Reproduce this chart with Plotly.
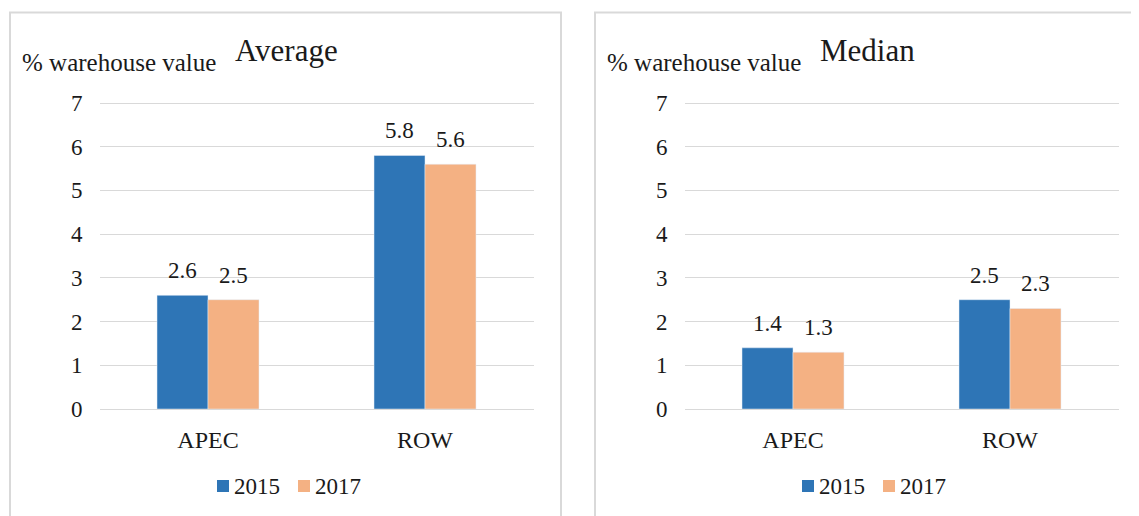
import plotly.graph_objects as go

categories = ["APEC", "ROW"]
years = ["2015", "2017"]
avg_2015 = [2.6, 5.8]
avg_2017 = [2.5, 5.6]
med_2015 = [1.4, 2.5]
med_2017 = [1.3, 2.3]
panel_titles = ["Average", "Median"]
y_label = "% warehouse value"
y_ticks = [0, 1, 2, 3, 4, 5, 6, 7]

# page has an 8px body margin; work in screen pixels and convert
OX, OY = 8, 8
FW, FH = 1131, 508


def px(x):
    return (x - OX) / FW


def py(y):
    return 1 - (y - OY) / FH


BLUE = "#2E75B6"
ORANGE = "#F4B183"
GRID = "#d9d9d9"
FONT = "Liberation Serif"
TXT = "#1a1a1a"
DX = 585  # horizontal offset of the second panel

Y0, Y7 = 409, 103
ppu = (Y0 - Y7) / 7
YMAX = 7.05
ydom = [py(Y0), py(Y0 - YMAX * ppu)]
xdoms = [[px(99.5), px(533.5)], [px(99.5 + DX), px(533.5 + DX)]]

fig = go.Figure()
panels = [
    (avg_2015, avg_2017, "x", "y"),
    (med_2015, med_2017, "x2", "y2"),
]
for s15, s17, xa, ya in panels:
    fig.add_trace(go.Bar(x=categories, y=s15, name=years[0], marker_color=BLUE,
                         xaxis=xa, yaxis=ya, showlegend=False))
    fig.add_trace(go.Bar(x=categories, y=s17, name=years[1], marker_color=ORANGE,
                         xaxis=xa, yaxis=ya, showlegend=False))

# data labels
bar_px = 51
for s15, s17, xa, ya in panels:
    for series, shift in ((s15, -bar_px / 2), (s17, bar_px / 2)):
        for c, v in zip(categories, series):
            fig.add_annotation(x=c, y=v, xref=xa, yref=ya, text=f"{v:.1f}",
                               showarrow=False, yanchor="bottom", xshift=shift,
                               yshift=10, font=dict(family=FONT, size=23, color=TXT))

axis_common = dict(range=[0, YMAX], tickvals=y_ticks, showgrid=True, gridcolor=GRID,
                   gridwidth=1, zeroline=False, showline=False, ticks="",
                   ticklabelstandoff=16,
                   tickfont=dict(family=FONT, size=23, color=TXT))
xaxis_common = dict(showgrid=False, showline=True, linecolor=GRID, linewidth=1,
                    ticks="", ticklabelstandoff=9,
                    tickfont=dict(family=FONT, size=24, color=TXT))

fig.update_layout(
    width=FW, height=FH,
    margin=dict(l=0, r=0, t=0, b=0, autoexpand=False),
    paper_bgcolor="white", plot_bgcolor="white",
    barmode="group", bargap=0.53, bargroupgap=0,
    showlegend=False,
    font=dict(family=FONT, color=TXT),
    xaxis=dict(domain=xdoms[0], anchor="y", **xaxis_common),
    yaxis=dict(domain=ydom, anchor="x", **axis_common),
    xaxis2=dict(domain=xdoms[1], anchor="y2", **xaxis_common),
    yaxis2=dict(domain=ydom, anchor="x2", **axis_common),
)

# panel borders
for k in range(2):
    fig.add_shape(type="rect", xref="paper", yref="paper",
                  x0=px(10 + k * DX), x1=px(561) if k == 0 else 1.1,
                  y0=-0.1, y1=py(12.5), line=dict(color=GRID, width=2))

# titles and y labels
for k, title in enumerate(panel_titles):
    fig.add_annotation(x=px(20 + k * DX), y=py(62), xref="paper", yref="paper", text=y_label,
                       showarrow=False, xanchor="left", yanchor="middle",
                       font=dict(family=FONT, size=25, color=TXT))
    fig.add_annotation(x=px(233 + k * DX), y=py(51), xref="paper", yref="paper", text=title,
                       showarrow=False, xanchor="left", yanchor="middle",
                       font=dict(family=FONT, size=31, color=TXT))

# legends (one per panel)
legend_sq = [217, 298]
legend_colors = [BLUE, ORANGE]
for k in range(2):
    for j, (yr, col) in enumerate(zip(years, legend_colors)):
        x0 = legend_sq[j] + k * DX
        fig.add_shape(type="rect", xref="paper", yref="paper",
                      x0=px(x0), x1=px(x0 + 12), y0=py(492), y1=py(480),
                      fillcolor=col, line=dict(width=0))
        fig.add_annotation(x=px(x0 + 15), y=py(486), xref="paper", yref="paper", text=yr,
                           showarrow=False, xanchor="left", yanchor="middle",
                           font=dict(family=FONT, size=23, color=TXT))

fig.write_html("out.html")
